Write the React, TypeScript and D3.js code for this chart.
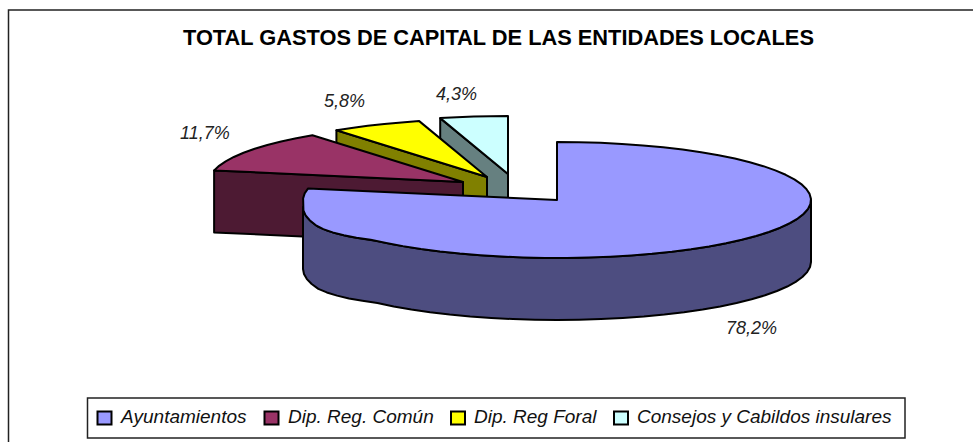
import React from "react";
import * as d3 from "d3";

const categories = ["Ayuntamientos", "Dip. Reg. Común", "Dip. Reg Foral", "Consejos y Cabildos insulares"];
const shares = [78.2, 11.7, 5.8, 4.3];
const shareLabels = ["78,2%", "11,7%", "5,8%", "4,3%"];
const topColors = ["#9999FF", "#993366", "#FFFF00", "#CCFFFF"];
const sideColors = ["#4D4D80", "#4D1A33", "#808000", "#668080"];
const title = "TOTAL GASTOS DE CAPITAL DE LAS ENTIDADES LOCALES";

// layout of the exploded perspective pie
const W = 973, H = 442;
const CX = 557, CY = 200, RX = 254, RY = 58, DEPTH = 62;
const explodeX = [0, -94, -70, -49];
const explodeY = [0, -18, -23, -26];
const labelX = [726, 180, 324, 436];
const labelY = [334, 139, 107, 100];
const legendSwatchX = [97.5, 264.5, 451, 614];
const legendTextX = [121, 288, 474, 637];

const arcs = d3.pie<number>().sort(null).value((d) => d)(shares);
const line = d3.line<[number, number]>();

// the original's ellipse sags a few pixels at its lower-left end
function sag(a: number, i: number) {
  if (i !== 0 || a > (3 * Math.PI) / 2 + 1e-6 || a < Math.PI) return 0;
  const t = Math.max(0, Math.min(1, (-Math.sin(a) - 0.72) / 0.22));
  return 7 * t;
}
function pt(a: number, i: number, dz = 0): [number, number] {
  return [CX + explodeX[i] + RX * Math.sin(a), CY + explodeY[i] - RY * Math.cos(a) + dz + sag(a, i)];
}
function arcPts(a0: number, a1: number, i: number, dz = 0) {
  const n = Math.max(2, Math.ceil(((a1 - a0) * 180) / Math.PI / 5));
  return d3.range(n + 1).map((k) => pt(a0 + ((a1 - a0) * k) / n, i, dz));
}

const stroke = { stroke: "#000", strokeWidth: 2, strokeLinejoin: "round" as const };

function Slice({ i }: { i: number }) {
  const { startAngle: a0, endAngle: a1 } = arcs[i];
  const apex: [number, number] = [CX + explodeX[i], CY + explodeY[i]];
  const apexLow: [number, number] = [apex[0], apex[1] + DEPTH];
  const top = [apex, ...arcPts(a0, a1, i)];
  // outer wall is only visible on the front half of the ellipse
  const w0 = Math.max(a0, Math.PI / 2), w1 = Math.min(a1, (3 * Math.PI) / 2);
  const wall = w1 > w0 ? [...arcPts(w0, w1, i), ...arcPts(w0, w1, i, DEPTH).reverse()] : null;
  // cut face visible for the slices whose start edge points to the back-left
  const cut = a0 > Math.PI ? [apex, pt(a0, i), pt(a0, i, DEPTH), apexLow] : null;
  return (
    <g>
      {cut && <path d={line(cut) + "Z"} fill={sideColors[i]} {...stroke} />}
      {wall && <path d={line(wall) + "Z"} fill={sideColors[i]} {...stroke} />}
      <path d={line(top) + "Z"} fill={topColors[i]} {...stroke} />
    </g>
  );
}

export default function App() {
  const font = "'Liberation Sans', Arial, sans-serif";
  return (
    <svg width={W} height={H} viewBox={`0 0 ${W} ${H}`} style={{ position: "absolute", left: 0, top: 0 }} fontFamily={font}>
      <rect x={0} y={0} width={W} height={H} fill="#fff" />
      <path d={`M8.5 ${H}V10H${W}`} fill="none" stroke="#222" strokeWidth={1.5} />
      <text x={183} y={45} fontSize={21.8} fontWeight="bold" fill="#000">{title}</text>
      {[3, 2, 1, 0].map((i) => <Slice key={i} i={i} />)}
      {shareLabels.map((t, i) => (
        <text key={i} x={labelX[i]} y={labelY[i]} fontSize={18} fontStyle="italic" fill="#222">{t}</text>
      ))}
      <rect x={87.5} y={398} width={817.5} height={40} fill="#fff" stroke="#222" strokeWidth={1.5} />
      {categories.map((c, i) => (
        <g key={c}>
          <rect x={legendSwatchX[i]} y={411.5} width={14} height={13} fill={topColors[i]} stroke="#000" strokeWidth={2} />
          <text x={legendTextX[i]} y={423} fontSize={19} fontStyle="italic" fill="#111">{c}</text>
        </g>
      ))}
    </svg>
  );
}
